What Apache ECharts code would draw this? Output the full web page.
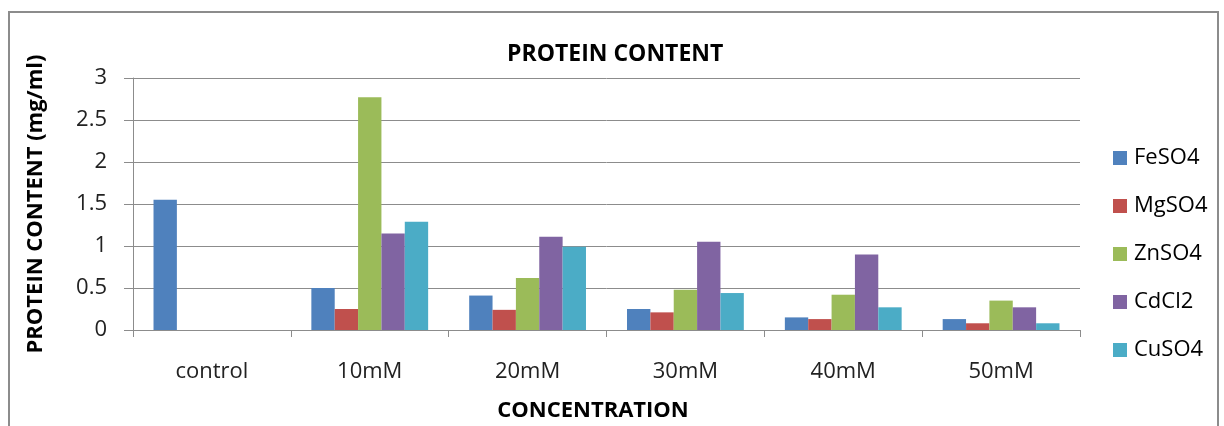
<!DOCTYPE html>
<html>
<head>
<meta charset="utf-8">
<script src="https://cdn.jsdelivr.net/npm/echarts@6/dist/echarts.min.js"></script>
<style>
  html, body { margin: 0; padding: 0; background: #fff; }
  #chart { width: 1224px; height: 426px; }
</style>
</head>
<body>
<div id="chart"></div>
<script>
// categories on x axis
var categories = ['control', '10mM', '20mM', '30mM', '40mM', '50mM']
// series (mg/ml)
var seriesNames = ['FeSO4', 'MgSO4', 'ZnSO4', 'CdCl2', 'CuSO4']
var feso4 = [1.55, 0.50, 0.41, 0.25, 0.15, 0.13]
var mgso4 = [0, 0.25, 0.24, 0.21, 0.13, 0.08]
var znso4 = [0, 2.77, 0.62, 0.48, 0.42, 0.35]
var cdcl2 = [0, 1.15, 1.11, 1.05, 0.90, 0.27]
var cuso4 = [0, 1.29, 0.99, 0.44, 0.27, 0.08]
var yTicks = [0, 0.5, 1, 1.5, 2, 2.5, 3]

var colors = ['#4F81BD', '#C0504D', '#9BBB59', '#8064A2', '#4BACC6']
var font = 'Open Sans'

var chart = echarts.init(document.getElementById('chart'))

var allData = [feso4, mgso4, znso4, cdcl2, cuso4]
var series = seriesNames.map(function (name, i) {
  return {
    name: name,
    type: 'bar',
    data: allData[i],
    barGap: '0%',
    barCategoryGap: '26%',
    itemStyle: { color: colors[i] }
  }
})

var option = {
  animation: false,
  color: colors,
  textStyle: { fontFamily: font },
  title: {
    text: 'PROTEIN CONTENT',
    left: 502,
    top: 38,
    textStyle: { fontFamily: font, fontSize: 23, fontWeight: 'bold', color: '#000' }
  },
  legend: {
    orient: 'vertical',
    left: 1108,
    top: 141,
    itemWidth: 14,
    itemHeight: 14,
    itemGap: 24,
    icon: 'rect',
    data: seriesNames,
    textStyle: { fontFamily: font, fontSize: 22, lineHeight: 24, color: '#000', padding: [0, 0, 0, 2] }
  },
  grid: { left: 133, right: 144, top: 78, bottom: 96, outerBoundsMode: 'none', containLabel: false },
  graphic: [{
    type: 'rect',
    shape: { x: 9, y: 12, width: 1209, height: 500 },
    style: { fill: null, stroke: '#8c8c8c', lineWidth: 2 },
    silent: true
  }],
  xAxis: {
    type: 'category',
    data: categories,
    name: 'CONCENTRATION',
    nameLocation: 'middle',
    nameGap: 70,
    nameTextStyle: { fontFamily: font, fontSize: 22, fontWeight: 'bold', color: '#000', padding: [0, 27, 0, 0] },
    axisLine: { lineStyle: { color: '#8c8c8c', width: 1 } },
    axisTick: { show: true, length: 7, lineStyle: { color: '#8c8c8c' } },
    axisLabel: { margin: 31, fontFamily: font, fontSize: 22, color: '#222' }
  },
  yAxis: {
    type: 'value',
    min: yTicks[0],
    max: yTicks[yTicks.length - 1],
    interval: 0.5,
    name: 'PROTEIN CONTENT (mg/ml)',
    nameLocation: 'middle',
    nameGap: 86,
    nameRotate: 90,
    nameTextStyle: { fontFamily: font, fontSize: 22, fontWeight: 'bold', color: '#000' },
    axisLine: { show: true, lineStyle: { color: '#8c8c8c', width: 1 } },
    axisTick: { show: true, length: 9, lineStyle: { color: '#8c8c8c' } },
    axisLabel: { margin: 26, fontFamily: font, fontSize: 22, color: '#222' },
    splitLine: { lineStyle: { color: '#8c8c8c', width: 1 } }
  },
  series: series
}

chart.setOption(option)
</script>
</body>
</html>
